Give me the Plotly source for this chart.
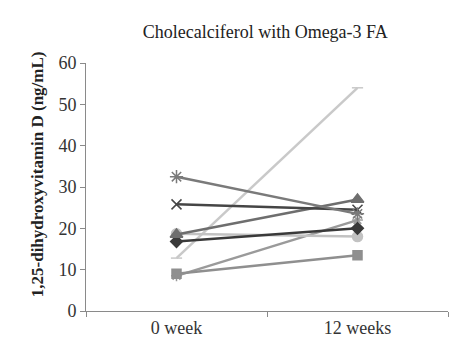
import plotly.graph_objects as go

categories = ["0 week", "12 weeks"]
s_star = [32.5, 23.5]
s_x = [25.8, 24.5]
s_triangle = [18.5, 27.0]
s_circle = [18.7, 18.0]
s_diamond = [16.8, 20.0]
s_light = [12.8, 54.0]
s_lowstar = [8.5, 22.0]
s_square = [9.0, 13.5]
y_title = "1,25-dihydroxyvitamin D (ng/mL)"

series = [
    (s_light, "#c9c9c9", "line-ew-open", 8),
    (s_lowstar, "#9a9a9a", "asterisk-open", 9),
    (s_square, "#8f8f8f", "square", 9),
    (s_circle, "#c2c2c2", "circle", 10),
    (s_diamond, "#3a3a3a", "diamond", 9),
    (s_triangle, "#6e6e6e", "triangle-up", 11),
    (s_x, "#454545", "x-thin-open", 10),
    (s_star, "#7a7a7a", "asterisk-open", 11),
]

fig = go.Figure()
for vals, col, sym, sz in series:
    fig.add_trace(go.Scatter(
        x=categories, y=vals, mode="lines+markers",
        line=dict(color=col, width=2.5),
        marker=dict(symbol=sym, size=sz, color=col, line=dict(color=col, width=1.5)),
        showlegend=False,
    ))

fig.update_layout(
    width=472, height=363,
    margin=dict(l=78, r=32, t=55, b=60),
    paper_bgcolor="white", plot_bgcolor="white",
    title=dict(text="Cholecalciferol with Omega-3 FA", x=0.545, xanchor="center",
               y=0.934, yanchor="middle",
               font=dict(family="Liberation Serif", size=18, color="#222")),
    font=dict(family="Liberation Serif"),
)
fig.add_annotation(
    text="<b>" + y_title + "</b>", xref="paper", yref="paper",
    x=-0.135, y=0.552, xanchor="center", yanchor="middle", textangle=-90,
    showarrow=False, font=dict(family="Liberation Serif", size=17, color="#222"),
)
fig.update_xaxes(
    type="category", range=[-0.5, 1.5], tickson="boundaries",
    showline=True, linecolor="#8a8a8a", linewidth=1,
    ticks="outside", ticklen=5, tickcolor="#8a8a8a",
    showgrid=False, zeroline=False,
    tickfont=dict(family="Liberation Serif", size=18, color="#333"),
)
fig.update_yaxes(
    range=[0, 60], dtick=10,
    showline=True, linecolor="#8a8a8a", linewidth=1,
    ticks="outside", ticklen=5, tickcolor="#8a8a8a",
    showgrid=False, zeroline=False,
    tickfont=dict(family="Liberation Serif", size=18, color="#333"),
)

fig.write_html("out.html")
